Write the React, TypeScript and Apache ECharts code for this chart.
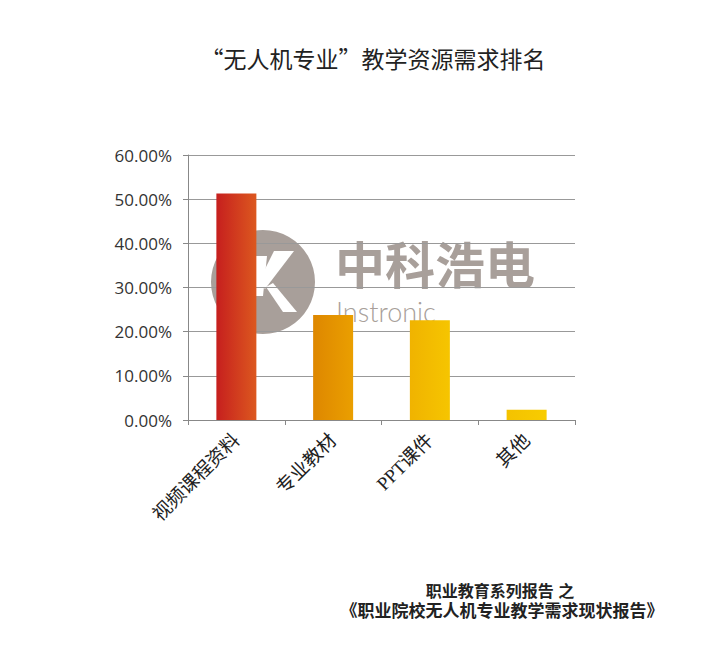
import React, { useEffect, useRef } from "react";
import * as echarts from "echarts";

const categories = ["视频课程资料", "专业教材", "PPT课件", "其他"];
const values = [51.3, 23.8, 22.6, 2.3];
const yTicks = { min: 0, max: 60, interval: 10 };
const titleText = "“无人机专业”教学资源需求排名";
const footerLine1 = "职业教育系列报告 之";
const footerLine2 = "《职业院校无人机专业教学需求现状报告》";
const watermarkCn = "中科浩电";
const watermarkEn = "Instronic";
const barColors = [
  ["#c61f1e", "#dc581f"],
  ["#de8700", "#ea9f00"],
  ["#f0b300", "#f6c500"],
  ["#f4c200", "#f8cc00"],
];

const WM = "#a89f9a";
const CJK = "Liberation Sans, Noto Sans CJK SC";

export default function App() {
  const ref = useRef<HTMLDivElement>(null);
  useEffect(() => {
    if (!ref.current) return;
    const chart = echarts.init(ref.current, null, { renderer: "svg" });
    chart.setOption({
      animation: false,
      backgroundColor: "#ffffff",
      title: {
        text: titleText,
        left: 368,
        top: 41,
        textAlign: "center",
        textStyle: {
          fontFamily: "Noto Sans CJK SC",
          fontSize: 23,
          fontWeight: "normal",
          color: "#222",
        },
      },
      grid: { left: 188, right: 138, top: 155, bottom: 235, containLabel: false },
      xAxis: {
        type: "category",
        data: categories,
        axisLine: { lineStyle: { color: "#888", width: 1 } },
        axisTick: { show: true, length: 5, lineStyle: { color: "#888" } },
        axisLabel: {
          rotate: 45,
          margin: 17,
          fontSize: 19,
          color: "#222",
          fontFamily: "Liberation Serif, Noto Sans CJK SC",
        },
      },
      yAxis: {
        type: "value",
        min: yTicks.min,
        max: yTicks.max,
        interval: yTicks.interval,
        axisLine: { show: true, lineStyle: { color: "#888", width: 1 } },
        axisTick: { show: true, length: 5, lineStyle: { color: "#888" } },
        splitLine: { lineStyle: { color: "#999", width: 1 } },
        axisLabel: {
          margin: 16,
          fontSize: 17,
          color: "#333",
          fontFamily: "Open Sans",
          formatter: (v: number) => v.toFixed(2) + "%",
        },
      },
      graphic: [
        {
          type: "group",
          z: -10,
          children: [
            { type: "circle", shape: { cx: 263, cy: 282, r: 52 }, style: { fill: WM }, z: -10 },
            {
              type: "polygon",
              shape: { points: [[256, 256], [267, 256], [263, 296], [252, 296]] },
              style: { fill: "#fff" },
              z: -9,
            },
            {
              type: "polygon",
              shape: { points: [[274, 251], [294, 251], [265, 289], [259, 281]] },
              style: { fill: "#fff" },
              z: -9,
            },
            {
              type: "polygon",
              shape: { points: [[266, 287], [273, 283], [297, 312], [283, 312]] },
              style: { fill: "#fff" },
              z: -9,
            },
            {
              type: "text",
              x: 335,
              y: 267,
              z: -9,
              style: {
                text: watermarkCn,
                fill: WM,
                fontSize: 50,
                fontWeight: "bold",
                fontFamily: CJK,
                textAlign: "left",
                textVerticalAlign: "middle",
              },
            },
            {
              type: "text",
              x: 336,
              y: 311,
              z: -9,
              style: {
                text: watermarkEn,
                fill: WM,
                fontSize: 27,
                fontWeight: 300,
                fontFamily: "Lato",
                textAlign: "left",
                textVerticalAlign: "middle",
              },
            },
          ],
        },
        {
          type: "text",
          x: 500,
          y: 591,
          style: {
            text: footerLine1,
            fill: "#222",
            fontSize: 16,
            fontWeight: "bold",
            fontFamily: CJK,
            textAlign: "center",
            textVerticalAlign: "middle",
          },
        },
        {
          type: "text",
          x: 502,
          y: 611,
          style: {
            text: footerLine2,
            fill: "#222",
            fontSize: 17,
            fontWeight: "bold",
            fontFamily: CJK,
            textAlign: "center",
            textVerticalAlign: "middle",
          },
        },
      ],
      series: [
        {
          type: "bar",
          barWidth: 40,
          z: 3,
          data: values.map((v, i) => ({
            value: v,
            itemStyle: {
              color: new echarts.graphic.LinearGradient(0, 0, 1, 0, [
                { offset: 0, color: barColors[i][0] },
                { offset: 1, color: barColors[i][1] },
              ]),
            },
          })),
        },
      ],
    });
    return () => chart.dispose();
  }, []);
  return (
    <div
      ref={ref}
      style={{ position: "fixed", left: 0, top: 0, width: 713, height: 655 }}
    />
  );
}
